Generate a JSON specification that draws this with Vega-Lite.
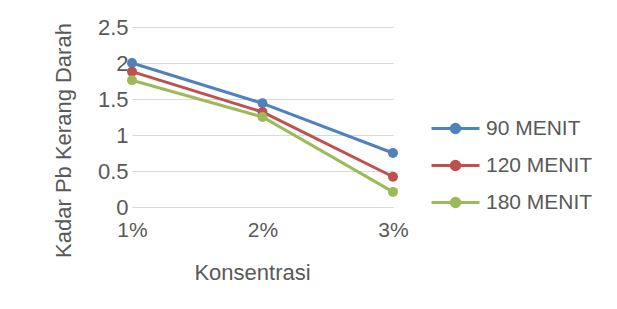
{
  "$schema": "https://vega.github.io/schema/vega-lite/v6.json",
  "width": 261,
  "height": 180,
  "autosize": "none",
  "padding": {"left": 132, "top": 27, "right": 224, "bottom": 102},
  "background": "white",
  "config": {
    "view": {"stroke": null},
    "font": "Liberation Sans"
  },
  "data": {
    "values": [
      {"konsentrasi": "1%", "waktu": "90 MENIT", "kadar": 2.0},
      {"konsentrasi": "2%", "waktu": "90 MENIT", "kadar": 1.44},
      {"konsentrasi": "3%", "waktu": "90 MENIT", "kadar": 0.75},
      {"konsentrasi": "1%", "waktu": "120 MENIT", "kadar": 1.88},
      {"konsentrasi": "2%", "waktu": "120 MENIT", "kadar": 1.32},
      {"konsentrasi": "3%", "waktu": "120 MENIT", "kadar": 0.42},
      {"konsentrasi": "1%", "waktu": "180 MENIT", "kadar": 1.76},
      {"konsentrasi": "2%", "waktu": "180 MENIT", "kadar": 1.25},
      {"konsentrasi": "3%", "waktu": "180 MENIT", "kadar": 0.21}
    ]
  },
  "encoding": {
    "x": {
      "field": "konsentrasi",
      "type": "ordinal",
      "sort": ["1%", "2%", "3%"],
      "scale": {"type": "point", "padding": 0},
      "axis": {
        "title": "Konsentrasi",
        "labelAngle": 0,
        "labelFontSize": 21,
        "labelColor": "#595959",
        "labelPadding": 12,
        "labelFontWeight": "normal",
        "ticks": false,
        "domainColor": "#d9d9d9",
        "grid": false,
        "titleFontSize": 22,
        "titleFontWeight": "normal",
        "titleColor": "#595959",
        "titleX": 120,
        "titleY": 65,
        "titleBaseline": "middle"
      }
    },
    "y": {
      "field": "kadar",
      "type": "quantitative",
      "scale": {"domain": [0, 2.5]},
      "axis": {
        "title": "Kadar Pb Kerang Darah",
        "values": [0, 0.5, 1, 1.5, 2, 2.5],
        "format": ".1~f",
        "labelFontSize": 22,
        "labelColor": "#595959",
        "labelPadding": 4,
        "ticks": false,
        "domain": false,
        "gridColor": "#d9d9d9",
        "titleFontSize": 22,
        "titleFontWeight": "normal",
        "titleColor": "#595959",
        "titleX": -69,
        "titleY": 113,
        "titleBaseline": "middle",
        "titleAlign": "center"
      }
    },
    "color": {
      "field": "waktu",
      "type": "nominal",
      "scale": {
        "domain": ["90 MENIT", "120 MENIT", "180 MENIT"],
        "range": ["#4F81BD", "#C0504D", "#9BBB59"]
      },
      "legend": {
        "title": null,
        "orient": "none",
        "legendX": 313,
        "legendY": 91,
        "symbolType": "M-4,0H4M-0.7,0A0.7,0.7,0,1,0,0.7,0A0.7,0.7,0,1,0,-0.7,0Z",
        "symbolSize": 144,
        "symbolStrokeWidth": 3,
        "labelFontSize": 21,
        "labelColor": "#595959",
        "labelOffset": 20,
        "rowPadding": 15
      }
    }
  },
  "layer": [
    {"mark": {"type": "line", "strokeWidth": 3}},
    {"mark": {"type": "point", "filled": true, "size": 100, "opacity": 1, "shape": "circle"}}
  ]
}
